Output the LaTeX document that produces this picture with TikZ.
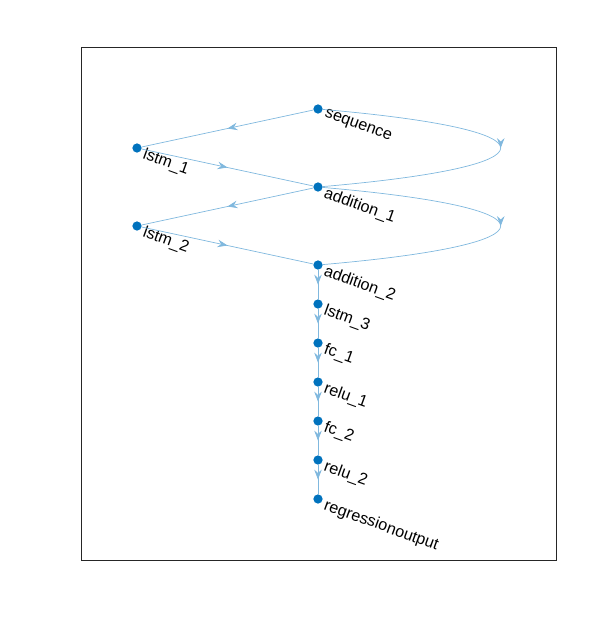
\documentclass[tikz,border=0pt]{standalone}
\usepackage{fontspec}
\setmainfont{Liberation Sans}
\usetikzlibrary{decorations,decorations.markings,arrows.meta}
\definecolor{nodeblue}{RGB}{0,114,189}
\colorlet{edgeblue}{nodeblue!50!white}
\definecolor{boxgray}{RGB}{38,38,38}
\tikzstyle{mid>}=[decoration={markings, mark=at position 0.5 with {\arrow{Stealth[length=8.5pt,width=6.5pt,inset=3pt]}}}, postaction={decorate}]

\begin{document}
\begin{tikzpicture}[x=0.03cm,y=-0.03cm,
  dot/.style={circle,fill=nodeblue,inner sep=0pt,minimum size=7.9pt},
  lbl/.style={anchor=north west,rotate=-20,inner sep=0pt,font=\fontsize{13.8}{16}\selectfont},
  edge/.style={draw=edgeblue,line width=0.6pt,mid>}]
\useasboundingbox (0,0) rectangle (616,630);
\draw[boxgray,line width=0.8pt] (81,47) rectangle (556,560);

% nodes
\node[dot] (sequence) at (318,109) {};
\node[dot] (lstm1) at (137,148) {};
\node[dot] (addition1) at (318,187) {};
\node[dot] (lstm2) at (137,226) {};
\foreach \n/\y in {addition2/265,lstm3/304,fc1/343,relu1/382,fc2/421,relu2/460,regressionoutput/499} {
	\node[dot] (\n) at (318,\y) {};
}

% labels
\foreach \n/\t in {sequence/sequence,lstm1/lstm\_1,addition1/addition\_1,lstm2/lstm\_2,addition2/addition\_2,lstm3/lstm\_3,fc1/fc\_1,relu1/relu\_1,fc2/fc\_2,relu2/relu\_2,regressionoutput/regressionoutput} {
	\node[lbl] (t\n) at ([shift={(9,-1)}]\n.center) {\t};
}

% edges
\draw[edge] (sequence) -- (lstm1);
\draw[edge] (lstm1) -- (addition1);
\draw[edge] (sequence) .. controls (560,130) and (560,166) .. (addition1);
\draw[edge] (addition1) -- (lstm2);
\draw[edge] (lstm2) -- (addition2);
\draw[edge] (addition1) .. controls (560,208) and (560,244) .. (addition2);
\foreach \a/\b in {addition2/lstm3,lstm3/fc1,fc1/relu1,relu1/fc2,fc2/relu2,relu2/regressionoutput} {
	\draw[edge] (\a) -- (\b);
}
\end{tikzpicture}
\end{document}
